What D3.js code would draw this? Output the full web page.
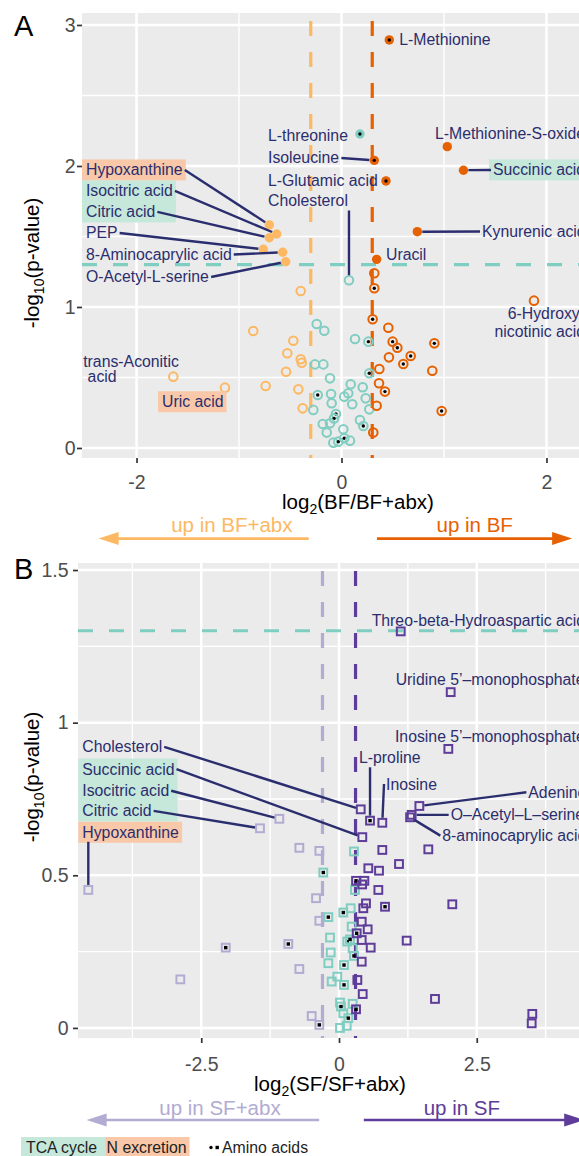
<!DOCTYPE html>
<html>
<head>
<meta charset="utf-8">
<script src="https://cdn.jsdelivr.net/npm/d3@7"></script>
<style>
  body { margin: 0; background: #fff; }
  svg { display: block; font-family: "Liberation Sans", Arial, Helvetica, sans-serif; }
</style>
</head>
<body>
<div id="chart"></div>
<script>
/**
 * CONSTANTS AND GLOBALS
 * */
const width = 579,
  height = 1156;

const fcCut = 0.3,
  pCut = -Math.log10(0.05);

const col = {
  loA: "#FDB863", hiA: "#E66101",
  loB: "#B2ABD2", hiB: "#5E3C99",
  mid: "#80CDC1", ink: "#2B2E6E",
  tca: "#C5E8DB", nex: "#F8C8A8"
};

/**
 * DATA
 * */
// panel A : BF vs BF+abx (named points first, the rest unnamed)
const bfNames = ["L-Methionine", "L-threonine", "Isoleucine", "L-Glutamic acid", "L-Methionine-S-oxide",
  "Succinic acid", "Kynurenic acid", "Uracil", "Hypoxanthine", "Isocitric acid", "Citric acid", "PEP",
  "8-Aminocaprylic acid", "O-Acetyl-L-serine", "Cholesterol", "6-Hydroxynicotinic acid",
  "trans-Aconitic acid", "Uric acid"];
const bfLog2FC = [
  0.466, 0.18, 0.32, 0.434, 1.032, 1.19, 0.74, 0.343, -0.704, -0.632, -0.704, -0.763, -0.574, -0.544, 0.073, 1.878, -1.641, -1.137,
  -0.398, -0.861, -0.47, -0.529, -0.398, -0.388, -0.541, -0.74, -0.421, -0.379,
  -0.242, -0.168, 0.132, 0.262, -0.259, -0.177, -0.112, 0.271, 0.09, 0.207,
  -0.232, -0.102, 0.066, 0.027, -0.096, 0.105, 0.236, -0.275, 0.271, -0.054,
  -0.073, -0.112, -0.183, -0.144, 0.18, 0.213, 0.018, -0.08, -0.031, 0.027, 0.083,
  0.32, 0.32, 0.304, 0.457, 0.499, 0.545, 0.675, 0.463, 0.603, 0.369, 0.906, 0.886, 0.366, 0.424, 0.343, 0.977, 0.31
];
const bfNegLogP = [
  2.894, 2.227, 2.04, 1.894, 2.137, 1.97, 1.534, 1.338, 1.582, 1.518, 1.491, 1.409, 1.388, 1.321, 1.19, 1.045, 0.506, 0.428,
  1.113, 0.83, 0.761, 0.672, 0.629, 0.605, 0.541, 0.44, 0.416, 0.281,
  0.879, 0.832, 0.773, 0.754, 0.593, 0.593, 0.494, 0.53, 0.452, 0.431,
  0.376, 0.383, 0.388, 0.364, 0.317, 0.31, 0.352, 0.27, 0.274, 0.241,
  0.21, 0.175, 0.17, 0.109, 0.199, 0.156, 0.133, 0.038, 0.045, 0.069, 0.052,
  1.239, 1.133, 0.913, 0.853, 0.754, 0.711, 0.652, 0.643, 0.596, 0.56, 0.742, 0.548, 0.459, 0.4, 0.3, 0.262, 0.109
];
const bfAmino = [
  1, 1, 1, 1, 0, 0, 0, 0, 0, 0, 0, 0, 0, 0, 0, 0, 0, 0,
  0, 0, 0, 0, 0, 0, 0, 0, 0, 0,
  0, 0, 0, 1, 0, 0, 0, 1, 0, 0,
  1, 0, 0, 0, 0, 0, 0, 0, 0, 1,
  1, 0, 0, 0, 0, 1, 0, 0, 1, 1, 0,
  0, 1, 1, 0, 1, 1, 1, 0, 1, 0, 1, 0, 0, 1, 0, 1, 0
];

// panel B : SF vs SF+abx
const sfNames = ["Threo-beta-Hydroaspartic acid", "Uridine 5’–monophosphate", "Inosine 5’–monophosphate",
  "L-proline", "Inosine", "Adenine", "O–Acetyl–L–serine", "8-aminocaprylic acid", "Cholesterol",
  "Succinic acid", "Isocitric acid", "Citric acid", "Hypoxanthine"];
const sfLog2FC = [
  1.12, 2.027, 1.984, 0.563, 0.786, 1.458, 1.319, 1.29, 0.394, 0.423, -1.083, -1.434, -4.55,
  -0.72, -0.357, -0.417, -0.357, -0.92, -0.72, -0.496, -0.357, -2.056, -2.88,
  0.272, -0.285, 0.29, 0.212, 0.078, -0.194, -0.163, 0.15, 0.2, 0.23,
  0.248, 0.272, -0.151, -0.194, 0.091, -0.031, -0.133, 0.091, 0.018, 0.036,
  0.248, 0.078, 0.169, 0.018, 0.14,
  0.786, 1.621, 1.089, 0.532, 0.726, 0.309, 0.46, 0.42, 0.714, 0.49,
  0.441, 0.835, 2.056, 0.412, 0.52, 0.321, 0.412, 0.575, 1.228, 0.412,
  0.333, 0.43, 0.309, 1.742, 3.508, 3.497
];
const sfNegLogP = [
  1.299, 1.1, 0.914, 0.679, 0.672, 0.727, 0.698, 0.69, 0.716, 0.625, 0.685, 0.654, 0.452,
  0.59, 0.58, 0.425, 0.351, 0.275, 0.193, 0.039, 0.01, 0.263, 0.159,
  0.578, 0.509, 0.452, 0.392, 0.378, 0.363, 0.296, 0.283, 0.29, 0.332,
  0.261, 0.236, 0.247, 0.212, 0.206, 0.168, 0.152, 0.141, 0.083, 0.07,
  0.079, 0.048, 0.032, 0.0, 0.007,
  0.583, 0.585, 0.537, 0.523, 0.515, 0.482, 0.482, 0.47, 0.452, 0.408,
  0.392, 0.397, 0.405, 0.348, 0.323, 0.31, 0.288, 0.263, 0.286, 0.217,
  0.157, 0.111, 0.061, 0.095, 0.046, 0.015
];
const sfAmino = [
  0, 0, 0, 1, 0, 0, 0, 0, 0, 0, 0, 0, 0,
  0, 0, 0, 0, 1, 0, 0, 1, 1, 0,
  0, 1, 0, 0, 1, 1, 0, 1, 1, 0,
  0, 1, 0, 0, 1, 0, 0, 1, 0, 1,
  0, 0, 1, 0, 0,
  0, 0, 0, 0, 0, 1, 0, 0, 0, 0,
  0, 1, 0, 0, 0, 1, 0, 0, 0, 0,
  0, 0, 1, 0, 0, 0
];

// highlighted pathways
const tcaCycle = ["Succinic acid", "Isocitric acid", "Citric acid"];
const nExcretion = ["Hypoxanthine", "Uric acid"];

// repelled label placement (data units, first line centre)
const bfLabels = [
  { name: "L-Methionine", x: 0.564, y: 2.894 },
  { name: "L-threonine", x: -0.717, y: 2.213 },
  { name: "Isoleucine", x: -0.717, y: 2.057 },
  { name: "L-Glutamic acid", x: -0.717, y: 1.90 },
  { name: "Cholesterol", x: -0.717, y: 1.752 },
  { name: "L-Methionine-S-oxide", x: 0.912, y: 2.234 },
  { name: "Succinic acid", x: 1.478, y: 1.972 },
  { name: "Kynurenic acid", x: 1.371, y: 1.535 },
  { name: "Uracil", x: 0.434, y: 1.376 },
  { name: "Hypoxanthine", x: -2.493, y: 1.972 },
  { name: "Isocitric acid", x: -2.493, y: 1.823 },
  { name: "Citric acid", x: -2.493, y: 1.674 },
  { name: "PEP", x: -2.493, y: 1.525 },
  { name: "8-Aminocaprylic acid", x: -2.493, y: 1.372 },
  { name: "O-Acetyl-L-serine", x: -2.493, y: 1.213 },
  { name: "6-Hydroxynicotinic acid", lines: ["6-Hydroxy-", "nicotinic acid"], x: 2.376, y: 0.954, lh: 17.5, anchor: "end" },
  { name: "trans-Aconitic acid", lines: ["trans-Aconitic", "\u00a0acid"], x: -2.52, y: 0.616, lh: 15.6 },
  { name: "Uric acid", x: -1.751, y: 0.328 }
];
const sfLabels = [
  { name: "Threo-beta-Hydroaspartic acid", x: 0.593, y: 1.336 },
  { name: "Uridine 5’–monophosphate", x: 1.029, y: 1.14 },
  { name: "Inosine 5’–monophosphate", x: 1.016, y: 0.954 },
  { name: "L-proline", x: 0.363, y: 0.885 },
  { name: "Inosine", x: 0.853, y: 0.799 },
  { name: "Adenine", x: 3.436, y: 0.772 },
  { name: "O–Acetyl–L–serine", x: 2.027, y: 0.698 },
  { name: "8-aminocaprylic acid", x: 1.875, y: 0.63 },
  { name: "Cholesterol", x: -4.659, y: 0.921 },
  { name: "Succinic acid", x: -4.659, y: 0.848 },
  { name: "Isocitric acid", x: -4.659, y: 0.777 },
  { name: "Citric acid", x: -4.659, y: 0.711 },
  { name: "Hypoxanthine", x: -4.659, y: 0.641 }
];

const panels = [
  {
    tag: "A", tagY: 36,
    names: bfNames, fc: bfLog2FC, p: bfNegLogP, amino: bfAmino, labels: bfLabels,
    shape: "circle", lo: col.loA, hi: col.hiA,
    xDomain: [-2.532, 2.854], yDomain: [-0.071, 3.085],
    left: 82, right: 634, top: 13, bottom: 458,
    xTicks: [-2, 0, 2], xMinor: [-1, 1], yTicks: [0, 1, 2, 3], yMinor: [0.5, 1.5, 2.5],
    xPad: 12, yPad: 1.5,
    xTitle: ["log", "2", "(BF/BF+abx)"], xTitleY: 509, yTitleY: 263,
    arrows: [
      { from: -0.32, to: -2.37, text: "up in BF+abx", tx: -1.07, color: col.loA },
      { from: 0.346, to: 2.25, text: "up in BF", tx: 1.3, color: col.hiA }
    ],
    arrowY: 538.6, arrowTextY: 532
  },
  {
    tag: "B", tagY: 579,
    names: sfNames, fc: sfLog2FC, p: sfNegLogP, amino: sfAmino, labels: sfLabels,
    shape: "square", lo: col.loB, hi: col.hiB,
    xDomain: [-4.737, 4.41], yDomain: [-0.033, 1.523],
    left: 78, right: 582, top: 563, bottom: 1038,
    xTicks: [-2.5, 0, 2.5], xMinor: [-3.75, -1.25, 1.25, 3.75], yTicks: [0, 0.5, 1, 1.5], yMinor: [0.25, 0.75, 1.25],
    xPad: 14, yPad: 4.5,
    xTitle: ["log", "2", "(SF/SF+abx)"], xTitleY: 1091, yTitleY: 777,
    arrows: [
      { from: -0.36, to: -4.58, text: "up in SF+abx", tx: -2.16, color: col.loB },
      { from: 0.45, to: 4.45, text: "up in SF", tx: 2.23, color: col.hiB }
    ],
    arrowY: 1120, arrowTextY: 1115
  }
];

/**
 * INIT
 * */
const svg = d3.select("#chart")
  .append("svg")
  .attr("width", width)
  .attr("height", height);

panels.forEach(drawPanel);
drawLegend();

function pathway(name) {
  if (tcaCycle.includes(name)) return "tca";
  if (nExcretion.includes(name)) return "nex";
  return null;
}

function drawPanel(c) {
  const x = d3.scaleLinear().domain(c.xDomain).range([c.left, c.right]);
  const y = d3.scaleLinear().domain(c.yDomain).range([c.bottom, c.top]);
  const g = svg.append("g");

  // background + grid
  g.append("rect")
    .attr("x", c.left).attr("y", c.top)
    .attr("width", c.right - c.left).attr("height", c.bottom - c.top)
    .attr("fill", "#EBEBEB");

  const grid = (vals, vertical, w) => g.append("g").selectAll("line")
    .data(vals).join("line")
    .attr("x1", d => vertical ? x(d) : c.left).attr("x2", d => vertical ? x(d) : c.right)
    .attr("y1", d => vertical ? c.top : y(d)).attr("y2", d => vertical ? c.bottom : y(d))
    .attr("stroke", "#fff").attr("stroke-width", w);
  grid(c.xMinor, true, 1.4);
  grid(c.yMinor, false, 1.4);
  grid(c.xTicks, true, 2.5);
  grid(c.yTicks, false, 2.5);

  // axes
  const styleAxis = sel => {
    sel.select(".domain").remove();
    sel.selectAll(".tick line").attr("stroke", "#333").attr("stroke-width", 1.7);
    sel.selectAll(".tick text").attr("fill", "#4D4D4D").attr("font-size", 19.5)
      .attr("font-family", "Liberation Sans, Arial, Helvetica, sans-serif");
  };
  g.append("g")
    .attr("transform", `translate(0,${c.bottom})`)
    .call(d3.axisBottom(x).tickValues(c.xTicks).tickFormat(d => String(d)).tickSize(5).tickPadding(c.xPad))
    .call(styleAxis);
  g.append("g")
    .attr("transform", `translate(${c.left},0)`)
    .call(d3.axisLeft(y).tickValues(c.yTicks).tickFormat(d => String(d)).tickSize(5).tickPadding(c.yPad))
    .call(styleAxis);

  // thresholds
  const dash = "15 16";
  g.append("line")
    .attr("x1", c.left).attr("x2", c.right).attr("y1", y(pCut)).attr("y2", y(pCut))
    .attr("stroke", col.mid).attr("stroke-width", 3.2).attr("stroke-dasharray", dash);
  [[-fcCut, c.lo], [fcCut, c.hi]].forEach(([v, colr]) => {
    g.append("line")
      .attr("x1", x(v)).attr("x2", x(v)).attr("y1", c.top).attr("y2", c.bottom)
      .attr("stroke", colr).attr("stroke-width", 3.2).attr("stroke-dasharray", dash)
      .attr("stroke-dashoffset", -8);
  });

  // points
  const pts = c.fc.map((v, i) => ({
    name: c.names[i] || "",
    fc: v, p: c.p[i], amino: c.amino[i],
    color: v < -fcCut ? c.lo : v > fcCut ? c.hi : col.mid,
    sig: c.p[i] > pCut
  }));
  const pg = g.append("g");
  const node = pg.selectAll("g").data(pts).join("g")
    .attr("transform", d => `translate(${x(d.fc)},${y(d.p)})`);
  if (c.shape === "circle") {
    node.append("circle")
      .attr("r", d => d.sig ? 4.7 : 4.3)
      .attr("fill", d => d.sig ? d.color : "none")
      .attr("stroke", d => d.sig ? "none" : d.color)
      .attr("stroke-width", 2);
    node.filter(d => d.amino).append("circle").attr("r", 1.7).attr("fill", "#000");
  } else {
    node.append("rect")
      .attr("x", -3.9).attr("y", -3.9).attr("width", 7.8).attr("height", 7.8)
      .attr("fill", d => d.sig ? d.color : "none")
      .attr("stroke", d => d.color)
      .attr("stroke-width", 2);
    node.filter(d => d.amino).append("rect")
      .attr("x", -1.7).attr("y", -1.7).attr("width", 3.4).attr("height", 3.4).attr("fill", "#000");
  }

  // labels
  const boxLayer = g.append("g");
  const segLayer = g.append("g");
  const textLayer = g.append("g");
  const placed = [];
  c.labels.forEach(l => {
    const d = pts.find(p => p.name === l.name);
    const lines = l.lines || [l.name];
    const lh = l.lh || 21;
    const t = textLayer.append("text")
      .attr("x", x(l.x)).attr("y", y(l.y))
      .attr("text-anchor", l.anchor || "start")
      .attr("font-size", 15.8)
      .attr("fill", col.ink)
      .style("white-space", "pre");
    lines.forEach((s, k) => {
      t.append("tspan").attr("x", x(l.x)).attr("y", y(l.y) + k * lh).attr("dy", "0.35em").text(s);
    });
    const b = t.node().getBBox();
    placed.push({ l, d, b, cy: y(l.y), kind: pathway(l.name) });
  });

  // pathway boxes, merged when stacked in one column
  const groups = d3.groups(placed.filter(q => q.kind), q => q.kind + "|" + q.l.x);
  groups.forEach(([, qs]) => {
    const x0 = d3.min(qs, q => q.b.x) - 4;
    const x1 = d3.max(qs, q => q.b.x + q.b.width) + 3;
    const y0 = d3.min(qs, q => q.cy) - 10.5;
    const y1 = d3.max(qs, q => q.cy) + 10.5;
    boxLayer.append("rect")
      .attr("x", Math.max(x0, c.left)).attr("y", y0)
      .attr("width", x1 - Math.max(x0, c.left)).attr("height", y1 - y0)
      .attr("fill", col[qs[0].kind]);
  });

  // connector segments
  placed.forEach(({ d, b, cy }) => {
    const px = x(d.fc), py = y(d.p);
    const x0 = b.x - 2, x1 = b.x + b.width + 2, y0 = b.y - 1, y1 = b.y + b.height + 1;
    if (px >= x0 && px <= x1 && py >= y0 && py <= y1) return;
    let sx, sy;
    if (px < x0) { sx = x0; sy = cy; }
    else if (px > x1) { sx = x1; sy = cy; }
    else { sx = px; sy = py > y1 ? y1 : y0; }
    const dx = px - sx, dy = py - sy, len = Math.hypot(dx, dy);
    if (len < 16) return;
    const k = (len - 5) / len;
    segLayer.append("line")
      .attr("x1", sx).attr("y1", sy)
      .attr("x2", sx + dx * k).attr("y2", sy + dy * k)
      .attr("stroke", col.ink).attr("stroke-width", 2.4);
  });

  // panel tag
  svg.append("text").attr("x", 14).attr("y", c.tagY)
    .attr("font-size", 29).attr("fill", "#000").text(c.tag);

  // axis titles
  const xt = svg.append("text")
    .attr("x", (c.left + c.right) / 2).attr("y", c.xTitleY)
    .attr("text-anchor", "middle").attr("font-size", 20.5).attr("fill", "#000");
  xt.append("tspan").text(c.xTitle[0]);
  xt.append("tspan").attr("font-size", 14).attr("dy", 5).text(c.xTitle[1]);
  xt.append("tspan").attr("dy", -5).text(c.xTitle[2]);

  const yt = svg.append("text")
    .attr("transform", `translate(39,${c.yTitleY}) rotate(-90)`)
    .attr("text-anchor", "middle").attr("font-size", 20.5).attr("fill", "#000");
  yt.append("tspan").text("-log");
  yt.append("tspan").attr("font-size", 14).attr("dy", 5).text("10");
  yt.append("tspan").attr("dy", -5).text("(p-value)");

  // direction arrows
  c.arrows.forEach(a => {
    const x1 = x(a.from), x2 = x(a.to);
    const dir = Math.sign(x2 - x1), head = 20, hw = 6.5;
    svg.append("line")
      .attr("x1", x1).attr("x2", x2 - dir * head * 0.7)
      .attr("y1", c.arrowY).attr("y2", c.arrowY)
      .attr("stroke", a.color).attr("stroke-width", 2.6);
    svg.append("path")
      .attr("d", `M${x2},${c.arrowY}L${x2 - dir * head},${c.arrowY - hw}L${x2 - dir * head},${c.arrowY + hw}Z`)
      .attr("fill", a.color);
    svg.append("text")
      .attr("x", x(a.tx)).attr("y", c.arrowTextY)
      .attr("text-anchor", "middle").attr("font-size", 20.5)
      .attr("fill", a.color).text(a.text);
  });
}

function drawLegend() {
  const lg = svg.append("g");
  const base = 1153, top = 1137;
  const boxes = lg.append("g");
  const t1 = lg.append("text").attr("x", 26).attr("y", base).attr("font-size", 15.8).attr("fill", "#222").text("TCA cycle");
  const e1 = 26 + t1.node().getComputedTextLength() + 8;
  boxes.append("rect").attr("x", 21).attr("y", top).attr("width", e1 - 21).attr("height", 24).attr("fill", col.tca);
  const t2 = lg.append("text").attr("x", e1 + 1.5).attr("y", base).attr("font-size", 15.8).attr("fill", "#222").text("N excretion");
  const e2 = e1 + 1.5 + t2.node().getComputedTextLength() + 3;
  boxes.append("rect").attr("x", e1).attr("y", top).attr("width", e2 - e1).attr("height", 24).attr("fill", col.nex);

  lg.append("circle").attr("cx", 211).attr("cy", 1147.5).attr("r", 1.7).attr("fill", "#000");
  lg.append("rect").attr("x", 215.5).attr("y", 1145.8).attr("width", 3.4).attr("height", 3.4).attr("fill", "#000");
  lg.append("text").attr("x", 222).attr("y", base).attr("font-size", 15.8).attr("fill", "#222").text("Amino acids");
}
</script>
</body>
</html>
